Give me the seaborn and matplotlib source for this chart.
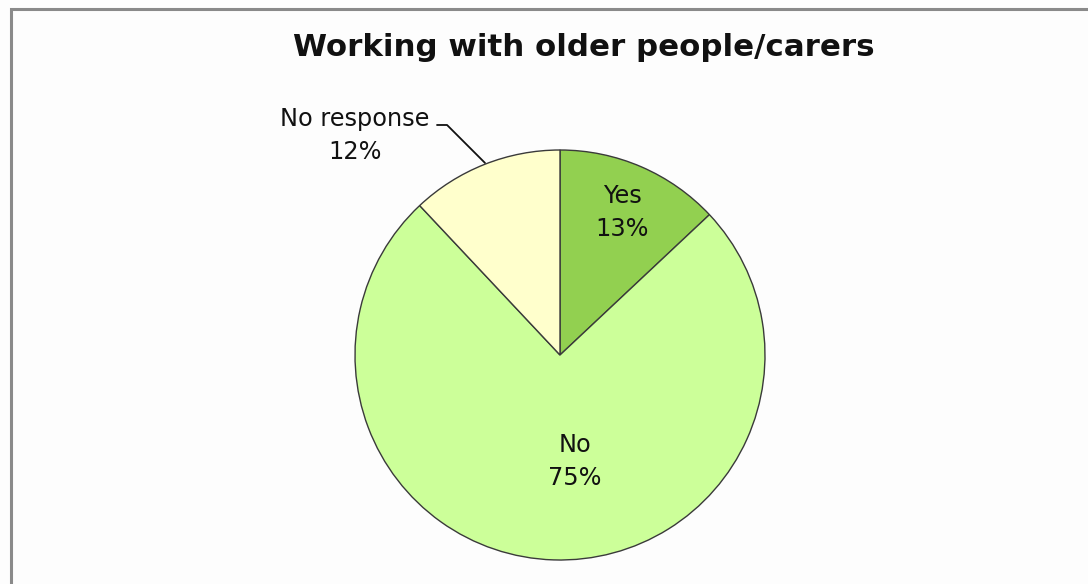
import matplotlib
matplotlib.use("Agg")
import matplotlib.pyplot as plt
import matplotlib.patches as mpatches
import seaborn as sns

# Survey responses
categories = ["Yes", "No", "No response"]
shares = [13, 75, 12]
slice_colors = ["#92D050", "#CCFF99", "#FFFFCC"]
title = "Working with older people/carers"

sns.set_theme(style="white")
plt.rcParams["font.family"] = ["DejaVu Sans"]

W, H = 1088, 584
fig = plt.figure(figsize=(W / 100, H / 100), dpi=100, facecolor="#fdfdfd")

# Outer chart frame
fig.add_artist(mpatches.Rectangle((11 / W, -0.1), 1.2, (H - 9) / H + 0.1,
                                  transform=fig.transFigure, fill=False,
                                  edgecolor="#8a8a8a", linewidth=2.2))

# Pie area: centre (560, 355), radius 205 px
cx, cy, r = 560, 355, 205
ax = fig.add_axes([(cx - r) / W, (H - cy - r) / H, 2 * r / W, 2 * r / H])
ax.set_facecolor("none")
wedges, _ = ax.pie(shares, colors=slice_colors, startangle=90, counterclock=False,
                   radius=1.0,
                   wedgeprops=dict(edgecolor="#3a3a3a", linewidth=1.0))
ax.set_xlim(-1, 1)
ax.set_ylim(-1, 1)
ax.axis("off")

label_fs = 17.3
ls = 1.45
ax.text(0.305, 0.695, f"{categories[0]}\n{shares[0]}%", ha="center", va="center",
        fontsize=label_fs, color="#111111", linespacing=ls)
ax.text(0.073, -0.52, f"{categories[1]}\n{shares[1]}%", ha="center", va="center",
        fontsize=label_fs, color="#111111", linespacing=ls)
ax.text(-1.0, 1.07, f"{categories[2]}\n{shares[2]}%", ha="center", va="center",
        fontsize=label_fs, color="#111111", linespacing=ls, clip_on=False)
ax.plot([-0.60, -0.551, -0.366], [1.122, 1.122, 0.937], color="#111111",
        linewidth=1.3, clip_on=False)

fig.text(584 / W, 1 - 47 / H, title, ha="center", va="center",
         fontsize=22.2, fontweight="bold", color="#111111")

fig.savefig("out.png", dpi=100, facecolor=fig.get_facecolor())
